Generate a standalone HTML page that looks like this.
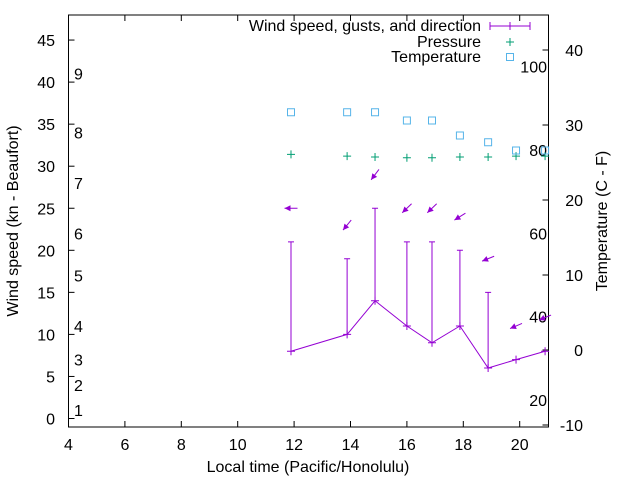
<!DOCTYPE html>
<html><head><meta charset="utf-8"><style>
body{margin:0;background:#fff}
svg{display:block;font-family:"Liberation Sans",sans-serif;font-size:16px}
</style></head><body>
<svg id="chart" width="640" height="480" viewBox="0 0 640 480" xmlns="http://www.w3.org/2000/svg">
<rect width="640" height="480" fill="#fff"/>
<g id="axes"></g>
<g id="marks"></g>
<g id="legend">
  <text x="481" y="31" text-anchor="end">Wind speed, gusts, and direction</text>
  <line x1="490" y1="26" x2="530" y2="26" stroke="#9400d3"/>
  <line x1="490" y1="22" x2="490" y2="30" stroke="#9400d3"/>
  <line x1="530" y1="22" x2="530" y2="30" stroke="#9400d3"/>
  <line x1="510" y1="22" x2="510" y2="30" stroke="#9400d3"/>
  <text x="481" y="47" text-anchor="end">Pressure</text>
  <path d="M506 42h8M510 38v8" stroke="#009e73"/>
  <text x="481" y="62" text-anchor="end">Temperature</text>
  <rect x="506.5" y="53.5" width="7" height="7" fill="none" stroke="#56b4e9"/>
</g>
</svg>
<script>
const hours = [11.89, 13.88, 14.87, 16.0, 16.89, 17.88, 18.88, 19.87, 20.9];
const windSpeed = [8, 10, 14, 11, 9, 11, 6, 7, 8];
const windGust = [21, 19, 25, 21, 21, 20, 15, null, null];
const windDir = [180, 231, 233, 224, 224, 212, 202, 203, 203];
const pressure = [31.4, 31.2, 31.1, 31.0, 31.0, 31.1, 31.1, 31.2, 31.2];
const temperature = [31.7, 31.7, 31.7, 30.6, 30.6, 28.6, 27.7, 26.6, 26.6];
const xTicks = [4, 6, 8, 10, 12, 14, 16, 18, 20];
const yTicks = [0, 5, 10, 15, 20, 25, 30, 35, 40, 45];
const y2Ticks = [-10, 0, 10, 20, 30, 40];
const beaufort = [1, 4, 7, 11, 17, 22, 28, 34, 41];
const fahrenheit = [20, 40, 60, 80, 100];

const L = 68.5, R = 548.5, T = 15, B = 427;
const X = h => L + (h - 4) * 28.2;
const Y = v => 418.5 - v * 8.41;
const Y2 = c => 350 - c * 7.5;
const NS = "http://www.w3.org/2000/svg";
function mk(parent, tag, attrs, text) {
  const e = document.createElementNS(NS, tag);
  for (const k in attrs) e.setAttribute(k, attrs[k]);
  if (text !== undefined) e.textContent = text;
  parent.appendChild(e);
  return e;
}
const axes = document.getElementById("axes");
const marks = document.getElementById("marks");

const frame = mk(axes, "rect", {x: L, y: T, width: R - L, height: B - T, fill: "none", stroke: "#000"});



xTicks.forEach(t => {
  const x = X(t);
  mk(axes, "path", {d: `M${x} ${B}v-6M${x} ${T}v6`, stroke: "#000"});
  const lb = mk(axes, "text", {x: x, y: B + 23, "text-anchor": "middle"}, t);
  
  
});
yTicks.forEach(t => {
  const y = Y(t);
  mk(axes, "path", {d: `M${L} ${y}h6`, stroke: "#000"});
  const lb = mk(axes, "text", {x: 55, y: y + 6, "text-anchor": "end"}, t);
  
  
});
y2Ticks.forEach(t => {
  const y = Y2(t);
  mk(axes, "path", {d: `M${R} ${y}h-6`, stroke: "#000"});
  const lb = mk(axes, "text", {x: 583, y: y + 6, "text-anchor": "end"}, t);
  
  
});
beaufort.forEach((k, i) => {
  const lb = mk(axes, "text", {x: 74, y: Y(k) + 6}, i + 1);
  
  
});
fahrenheit.forEach(f => {
  const c = (f - 32) * 5 / 9;
  const lb = mk(axes, "text", {x: 547, y: Y2(c) + 6, "text-anchor": "end"}, f);
  
  
});
let t1 = mk(axes, "text", {x: 308, y: 472, "text-anchor": "middle"}, "Local time (Pacific/Honolulu)");


let t2 = mk(axes, "text", {x: 18, y: 221, "text-anchor": "middle", transform: "rotate(-90 18 221)"}, "Wind speed (kn - Beaufort)");


let t3 = mk(axes, "text", {x: 607, y: 221, "text-anchor": "middle", transform: "rotate(-90 607 221)"}, "Temperature (C - F)");



const P = "#9400d3";
const pl = mk(marks, "polyline", {points: hours.map((h, i) => X(h) + "," + Y(windSpeed[i])).join(" "), fill: "none", stroke: P});


hours.forEach((h, i) => {
  const x = X(h), y = Y(windSpeed[i]);
  const c = mk(marks, "path", {d: `M${x-4} ${y}h8M${x} ${y-4}v8`, stroke: P});
  
  
  const g = windGust[i];
  if (g !== null) {
    const yg = Y(g);
    const e = mk(marks, "path", {d: `M${x} ${y}V${yg}M${x-3} ${yg}h6`, stroke: P});
    
    
  }
  const top = Math.max(g === null ? windSpeed[i] : g, windSpeed[i]) + 4;
  const cy = Y(top), a = windDir[i] * Math.PI / 180, len = 13;
  const dx = Math.cos(a), dy = -Math.sin(a);
  const hx = x + dx * len / 2, hy = cy + dy * len / 2, tx = x - dx * len / 2, ty = cy - dy * len / 2;
  const px = -dy, py = dx;
  const ar = mk(marks, "g", {});
  
  
  mk(ar, "line", {x1: tx, y1: ty, x2: hx, y2: hy, stroke: P});
  const bx = hx - dx * 6, by = hy - dy * 6;
  mk(ar, "polygon", {points: `${hx},${hy} ${bx + px*3},${by + py*3} ${bx - px*3},${by - py*3}`, fill: P});
});
hours.forEach((h, i) => {
  const x = X(h), y = Y(pressure[i]);
  const p = mk(marks, "path", {d: `M${x-4} ${y}h8M${x} ${y-4}v8`, stroke: "#009e73"});
  
  
  const ty = Y2(temperature[i]);
  const s = mk(marks, "rect", {x: x - 3.5, y: ty - 3.5, width: 7, height: 7, fill: "none", stroke: "#56b4e9"});
  
  
});
</script>
</body></html>
